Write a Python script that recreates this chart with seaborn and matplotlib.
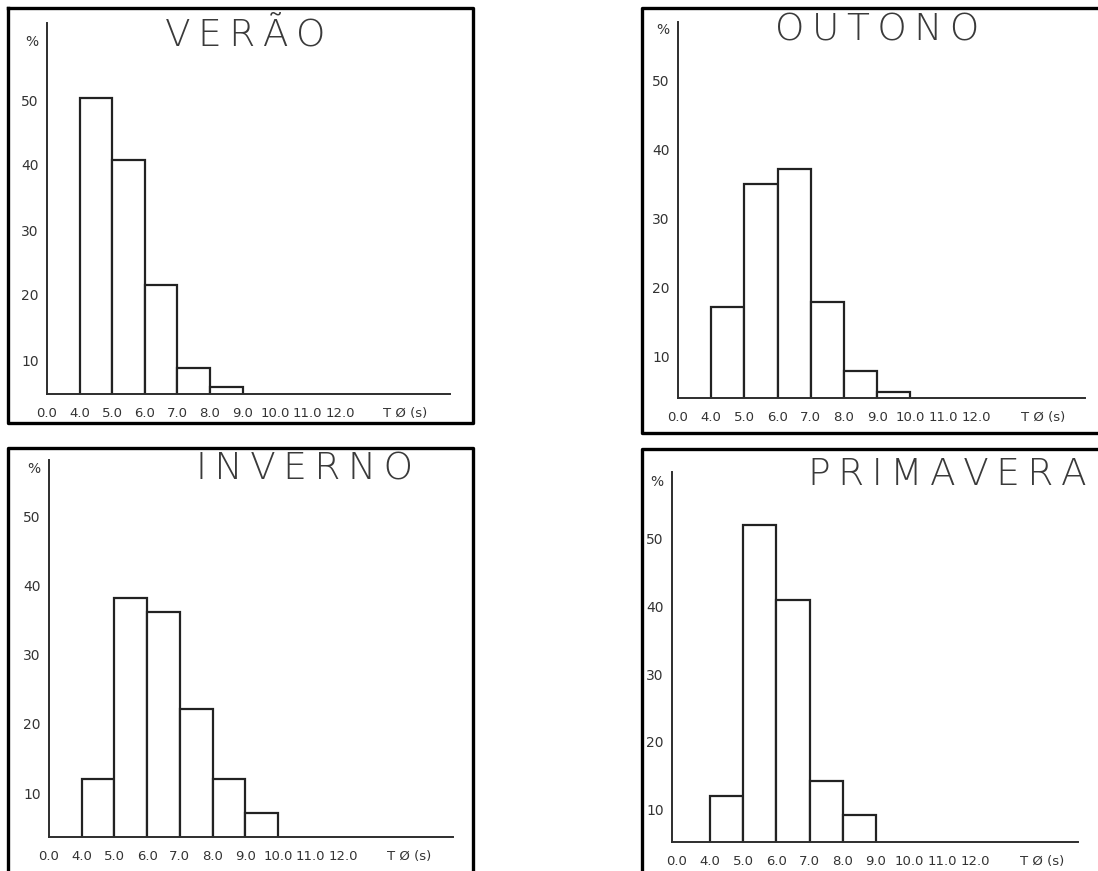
import numpy as np
import pandas as pd
import matplotlib
matplotlib.use("Agg")
import matplotlib.pyplot as plt
from matplotlib.lines import Line2D
import seaborn as sns

# ---------------- data ----------------
x_tick_labels = ["0.0", "4.0", "5.0", "6.0", "7.0", "8.0", "9.0", "10.0", "11.0", "12.0"]
x_axis_label = "T Ø (s)"
y_tick_values = [10, 20, 30, 40, 50]

seasons = ["VERÃO", "OUTONO", "INVERNO", "PRIMAVERA"]
# each series starts at the bin "4.0 - 5.0"
verao = [50.3, 40.8, 21.5, 8.8, 5.8]
outono = [17.1, 34.9, 37.1, 17.8, 7.8, 4.8]
inverno = [12.0, 38.2, 36.2, 22.1, 12.0, 7.1]
primavera = [11.9, 52.1, 41.0, 14.1, 9.1]
series = [verao, outono, inverno, primavera]
first_bin = "4.0"

# ---------------- layout (pixels) ----------------
W, H = 1098, 871
sns.set_style("white")
plt.rcParams["font.family"] = ["DejaVu Sans"]

# axis_left, pos0, spacing, axis_right, baseline, top, y10, px_per_unit, pct_y
layout = [
    (47, 47, 32.6, 450, 394, 23, 360, 6.5, 40),
    (678, 678, 33.2, 1085, 398, 22, 356, 6.9, 28),
    (49, 49, 32.7, 453, 837, 460, 793, 6.92, 467),
    (672, 676.8, 33.2, 1078, 842, 472, 809, 6.75, 480),
]
titles_px = [(245, 35), (877, 30), (304, 469), (947, 474)]
frames = [
    [(8, 8), (473, 8), (473, 423), (8, 423), (8, 8)],
    [(1098, 8), (642, 8), (642, 433), (1098, 433)],
    [(8, 871), (8, 448), (473, 448), (473, 871)],
    [(642, 871), (642, 449), (1098, 449)],
]

fig = plt.figure(figsize=(W / 100, H / 100), dpi=100)
fig.patch.set_facecolor("white")

axis_color = "#2e2e2e"
text_color = "#333333"
thin = "\u2009"

for i, (name, vals) in enumerate(zip(seasons, series)):
    al, p0, sp, ar, base, top, y10, sc, pcty = layout[i]
    ax = fig.add_axes([al / W, 1 - base / H, (ar - al) / W, (base - top) / H])
    start = x_tick_labels.index(first_bin)
    edges = [float(e) for e in range(start, start + len(vals) + 1)]
    centers = [e + 0.5 for e in edges[:-1]]
    df = pd.DataFrame({"pos": centers, "pct": vals})
    sns.histplot(data=df, x="pos", weights="pct", bins=edges, ax=ax,
                 color="white", edgecolor="#222222", linewidth=1.6, alpha=1)
    ylo = 10 - (base - y10) / sc
    yhi = 10 + (y10 - top) / sc
    ax.set_ylim(ylo, yhi)
    ax.set_xlim((al - p0) / sp, (ar - p0) / sp)
    pct_val = 10 + (y10 - pcty) / sc
    ax.set_yticks(y_tick_values + [pct_val])
    ax.set_yticklabels([str(v) for v in y_tick_values] + ["%"])
    ax.set_xticks(list(range(len(x_tick_labels))) + [11])
    ax.set_xticklabels(x_tick_labels + [x_axis_label])
    ax.tick_params(axis="both", length=0, colors=text_color)
    ax.tick_params(axis="x", pad=9, labelsize=9.5)
    ax.tick_params(axis="y", pad=6, labelsize=10)
    ax.set_xlabel("")
    ax.set_ylabel("")
    for s in ["top", "right"]:
        ax.spines[s].set_visible(False)
    for s in ["left", "bottom"]:
        ax.spines[s].set_color(axis_color)
        ax.spines[s].set_linewidth(1.4)
    ax.patch.set_alpha(0)
    tx, ty = titles_px[i]
    fig.text(tx / W, 1 - ty / H, thin.join(name), ha="center", va="center",
             fontsize=27, color="#3a3a3a", family="DejaVu Sans", fontweight="light")

for pts in frames:
    xs = [p[0] / W for p in pts]
    ys = [1 - p[1] / H for p in pts]
    fig.add_artist(Line2D(xs, ys, color="black", linewidth=2.4,
                          transform=fig.transFigure, solid_capstyle="projecting"))

fig.savefig("out.png", dpi=100, facecolor="white")
